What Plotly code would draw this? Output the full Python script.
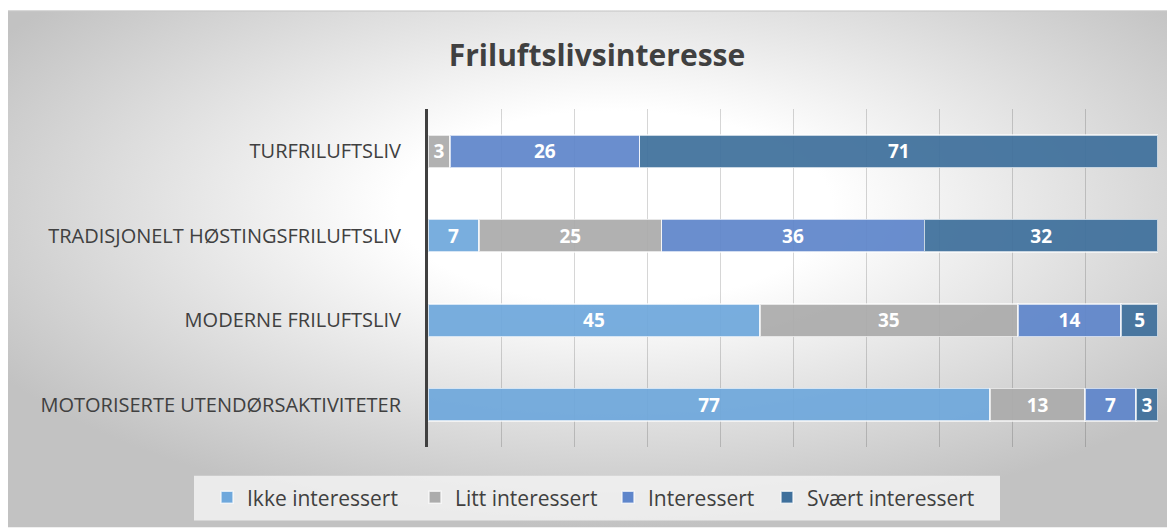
import plotly.graph_objects as go
import urllib.parse

categories = ["TURFRILUFTSLIV", "TRADISJONELT HØSTINGSFRILUFTSLIV",
              "MODERNE FRILUFTSLIV", "MOTORISERTE UTENDØRSAKTIVITETER"]
series_names = ["Ikke interessert", "Litt interessert", "Interessert", "Svært interessert"]
ikke = [0, 7, 45, 77]
litt = [3, 25, 35, 13]
interessert = [26, 36, 14, 7]
svaert = [71, 32, 5, 3]
colors = ["#6fa8dc", "#acacac", "#5f86cb", "#3f709c"]

W, H = 1167, 522
L, R, T, B = 420, 17, 101, 81
pw, ph = W - L - R, H - T - B

bg_svg = (
    f"<svg xmlns='http://www.w3.org/2000/svg' width='{W}' height='{H}' viewBox='0 0 {W} {H}'>"
    "<defs><radialGradient id='g' cx='0.52' cy='0.38' r='0.62'>"
    "<stop offset='0' stop-color='#ffffff'/>"
    "<stop offset='0.3' stop-color='#ffffff'/>"
    "<stop offset='1' stop-color='#c2c2c2'/>"
    "</radialGradient></defs>"
    f"<rect x='0' y='2' width='{W}' height='{H - 2}' fill='url(#g)'/>"
    f"<line x1='0' y1='2.5' x2='{W}' y2='2.5' stroke='#c8c8c8' stroke-width='1'/>"
    "</svg>"
)
bg_uri = "data:image/svg+xml;charset=utf-8," + urllib.parse.quote(bg_svg)

legend_ids = ["legend", "legend2", "legend3", "legend4"]
legend_left_px = [199, 407, 600, 759]  # figure px of each legend entry start

fig = go.Figure()
for name, vals, col, lid in zip(series_names, [ikke, litt, interessert, svaert], colors, legend_ids):
    fig.add_trace(go.Bar(
        y=categories, x=vals, name=name, orientation="h", legend=lid,
        marker=dict(color=col, opacity=0.93, line=dict(color="rgba(255,255,255,0.7)", width=1.5)),
        text=[str(v) if v else "" for v in vals],
        texttemplate="%{text}",
        textposition="inside", insidetextanchor="middle", constraintext="none",
        textfont=dict(family="Open Sans", size=19, color="white", weight="bold"),
    ))

leg_y = -(492 - (H - B)) / ph
legends = {}
for lid, lx in zip(legend_ids, legend_left_px):
    legends[lid] = dict(orientation="h", xref="paper", yref="paper", x=(lx - L) / pw, xanchor="left",
                        y=leg_y, yanchor="middle", bgcolor="rgba(0,0,0,0)",
                        font=dict(family="Open Sans", size=21, color="#404040"), itemwidth=30)

fig.update_layout(
    width=W, height=H,
    barmode="stack", barnorm="percent", bargap=0.61,
    margin=dict(l=L, r=R, t=T, b=B),
    paper_bgcolor="white", plot_bgcolor="rgba(0,0,0,0)",
    font=dict(family="Open Sans", color="#404040"),
    title=dict(text="<b>Friluftslivsinteresse</b>", x=589 / W, xref="container", xanchor="center",
               y=1 - 47 / H, yref="container", yanchor="middle",
               font=dict(family="Open Sans", size=30, color="#404040")),
    xaxis=dict(range=[0, 100], dtick=10, showgrid=True, gridcolor="rgba(0,0,0,0.16)", gridwidth=1,
               showticklabels=False, zeroline=False, showline=False, fixedrange=True),
    yaxis=dict(autorange="reversed", showline=True, linecolor="#404040", linewidth=3,
               ticks="", ticklabelstandoff=20, tickfont=dict(family="Open Sans", size=20, color="#404040"),
               showgrid=False),
    images=[dict(source=bg_uri, xref="paper", yref="paper", x=-L / pw, y=1 + T / ph,
                 sizex=W / pw, sizey=H / ph, sizing="stretch", layer="below",
                 xanchor="left", yanchor="top")],
    shapes=[dict(type="rect", xref="paper", yref="paper", layer="below",
                 x0=(186 - L) / pw, x1=(992 - L) / pw,
                 y0=-(515 - (H - B)) / ph, y1=-(470 - (H - B)) / ph,
                 fillcolor="rgba(242,242,242,0.85)", line=dict(width=0))],
    showlegend=True,
    **legends,
)

fig.write_html("out.html")
